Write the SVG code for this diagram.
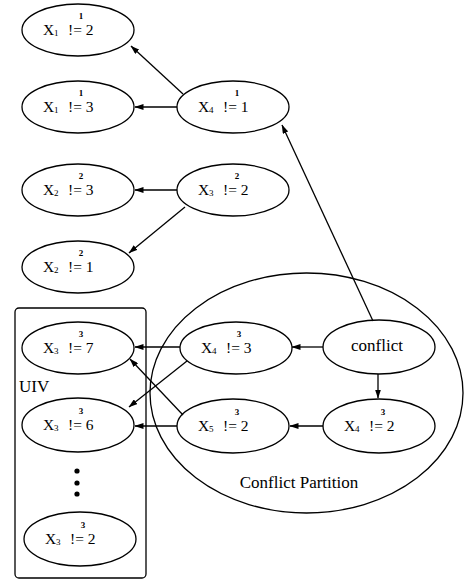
<svg xmlns="http://www.w3.org/2000/svg" width="464" height="583" viewBox="0 0 464 583">
<style>
.n{fill:#fff;stroke:#000;stroke-width:1.3}
.t{font-family:"Liberation Serif","Times New Roman",serif;font-size:15.5px;fill:#000}
.s{font-family:"Liberation Serif","Times New Roman",serif;font-size:9px;fill:#000}
.p{font-family:"Liberation Serif","Times New Roman",serif;font-size:9px;font-weight:bold;fill:#000;text-anchor:middle}
.l{font-family:"Liberation Serif","Times New Roman",serif;font-size:17px;fill:#000}
.e{stroke:#000;stroke-width:1.3;fill:none;marker-end:url(#a)}
</style>
<defs>
<marker id="a" markerUnits="userSpaceOnUse" markerWidth="9" markerHeight="6" refX="8.5" refY="3" orient="auto">
<path d="M0,0 L9,3 L0,6 z" fill="#000"/>
</marker>
</defs>
<rect id="uiv-box" x="15" y="308" width="131" height="270" rx="4" fill="none" stroke="#000" stroke-width="1.3"/>
<text class="l" x="19" y="392">UIV</text>
<ellipse id="partition" cx="306.5" cy="393" rx="156.5" ry="120" fill="none" stroke="#000" stroke-width="1.3"/>
<text class="l" x="299" y="488" text-anchor="middle">Conflict Partition</text>
<g id="dots" fill="#000"><circle cx="77" cy="471" r="2.6"/><circle cx="77" cy="483" r="2.6"/><circle cx="77" cy="494" r="2.6"/></g>

<g id="n1"><ellipse class="n" cx="78" cy="30" rx="56" ry="26"/><text class="t" x="43" y="35">X</text><text class="s" x="54" y="36">1</text><text class="t" x="68" y="35">!= 2</text><text class="p" x="81" y="19">1</text></g>
<g id="n2"><ellipse class="n" cx="78" cy="107" rx="56" ry="26"/><text class="t" x="43" y="112">X</text><text class="s" x="54" y="113">1</text><text class="t" x="68" y="112">!= 3</text><text class="p" x="81" y="96">1</text></g>
<g id="n3"><ellipse class="n" cx="233" cy="107" rx="56" ry="26"/><text class="t" x="198" y="112">X</text><text class="s" x="209" y="113">4</text><text class="t" x="223" y="112">!= 1</text><text class="p" x="237" y="96">1</text></g>
<g id="n4"><ellipse class="n" cx="78" cy="190" rx="56" ry="26"/><text class="t" x="43" y="195">X</text><text class="s" x="54" y="196">2</text><text class="t" x="68" y="195">!= 3</text><text class="p" x="81" y="179">2</text></g>
<g id="n5"><ellipse class="n" cx="233" cy="190" rx="56" ry="26"/><text class="t" x="198" y="195">X</text><text class="s" x="209" y="196">3</text><text class="t" x="223" y="195">!= 2</text><text class="p" x="237" y="179">2</text></g>
<g id="n6"><ellipse class="n" cx="78" cy="267" rx="56" ry="26"/><text class="t" x="43" y="272">X</text><text class="s" x="54" y="273">2</text><text class="t" x="68" y="272">!= 1</text><text class="p" x="81" y="256">2</text></g>
<g id="n7"><ellipse class="n" cx="78" cy="348" rx="56" ry="26"/><text class="t" x="43" y="353">X</text><text class="s" x="54" y="354">3</text><text class="t" x="68" y="353">!= 7</text><text class="p" x="81" y="337">3</text></g>
<g id="n8"><ellipse class="n" cx="236" cy="348" rx="56" ry="26"/><text class="t" x="201" y="353">X</text><text class="s" x="212" y="354">4</text><text class="t" x="226" y="353">!= 3</text><text class="p" x="239" y="337">3</text></g>
<g id="n9"><ellipse class="n" cx="379" cy="347" rx="56" ry="27"/><text class="l" x="377" y="351" text-anchor="middle">conflict</text></g>
<g id="n10"><ellipse class="n" cx="78" cy="425" rx="56" ry="27"/><text class="t" x="43" y="430">X</text><text class="s" x="54" y="431">3</text><text class="t" x="68" y="430">!= 6</text><text class="p" x="81" y="414">3</text></g>
<g id="n11"><ellipse class="n" cx="233" cy="426" rx="56" ry="27"/><text class="t" x="198" y="431">X</text><text class="s" x="209" y="432">5</text><text class="t" x="223" y="431">!= 2</text><text class="p" x="237" y="415">3</text></g>
<g id="n12"><ellipse class="n" cx="379" cy="426" rx="56" ry="27"/><text class="t" x="344" y="431">X</text><text class="s" x="355" y="432">4</text><text class="t" x="369" y="431">!= 2</text><text class="p" x="383" y="415">3</text></g>
<g id="n13"><ellipse class="n" cx="80" cy="539" rx="56" ry="27"/><text class="t" x="45" y="544">X</text><text class="s" x="56" y="545">3</text><text class="t" x="70" y="544">!= 2</text><text class="p" x="83" y="528">3</text></g>

<g id="edges">
<line class="e" x1="183" y1="94" x2="131" y2="46"/>
<line class="e" x1="177" y1="107" x2="135" y2="107"/>
<line class="e" x1="373" y1="321" x2="282" y2="125"/>
<line class="e" x1="177" y1="190" x2="135" y2="190"/>
<line class="e" x1="185" y1="207" x2="129" y2="253"/>
<line class="e" x1="323" y1="347" x2="292" y2="347"/>
<line class="e" x1="378" y1="374" x2="378" y2="398"/>
<line class="e" x1="323" y1="426" x2="290" y2="426"/>
<line class="e" x1="180" y1="347" x2="135" y2="347"/>
<line class="e" x1="187" y1="361" x2="129" y2="407"/>
<line class="e" x1="183" y1="415" x2="130" y2="359"/>
<line class="e" x1="177" y1="426" x2="135" y2="426"/>
</g>
</svg>
